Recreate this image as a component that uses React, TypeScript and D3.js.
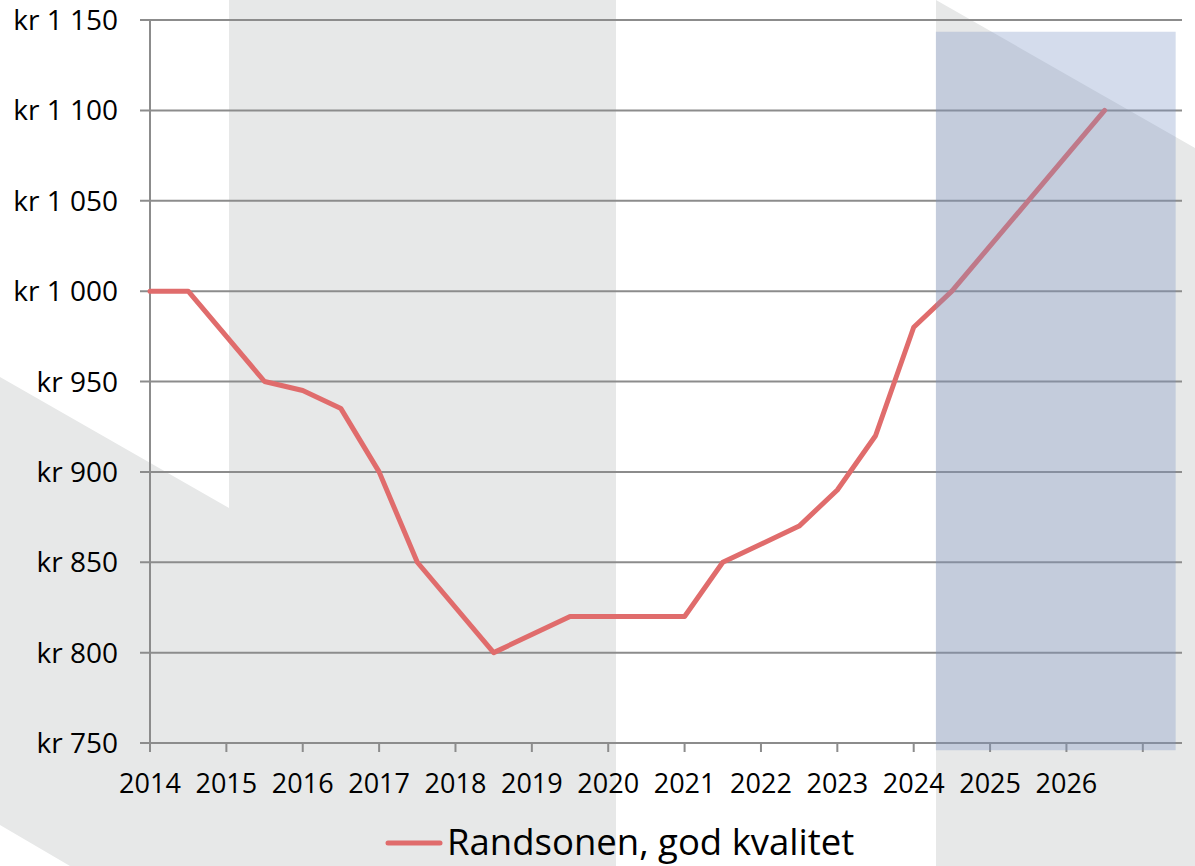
import React, { useEffect, useRef } from "react";
import * as d3 from "d3";

// price per m2 over time (half-year points where the line bends)
const years = [2014, 2014.5, 2015.5, 2016, 2016.5, 2017, 2017.5, 2018.5, 2019.5, 2021, 2021.5, 2022.5, 2023, 2023.5, 2024, 2024.5, 2026.5];
const prices = [1000, 1000, 950, 945, 935, 900, 850, 800, 820, 820, 850, 870, 890, 920, 980, 1000, 1100];
const yearLabels = ["2014", "2015", "2016", "2017", "2018", "2019", "2020", "2021", "2022", "2023", "2024", "2025", "2026"];
const yTicks = [750, 800, 850, 900, 950, 1000, 1050, 1100, 1150];
const seriesName = "Randsonen, god kvalitet";
// forecast band (years / values)
const bandYears = [2024.29, 2027.43];
const bandValues = [746, 1143.5];

const W = 1195;
const H = 866;
const lineColor = "#e06c6c";
const gridColor = "#8c8c8c";
const font = "'Open Sans', sans-serif";

const App = () => {
  const svgRef = useRef<SVGSVGElement | null>(null);

  useEffect(() => {
    const svg = d3.select(svgRef.current);
    svg.selectAll("*").remove();

    const x = d3.scaleLinear().domain([2014, 2027.5]).range([150, 1181]);
    const y = d3.scaleLinear().domain([750, 1150]).range([743, 20]);

    // background watermark shapes
    svg.append("rect").attr("width", W).attr("height", H).attr("fill", "#fff");
    const bg = "#e7e8e8";
    svg.append("polygon")
      .attr("points", "0,377 229,508 229,0 616,0 616,866 70,866 0,825")
      .attr("fill", bg);
    svg.append("polygon")
      .attr("points", "936,0 1195,148 1195,866 936,866")
      .attr("fill", bg);

    // gridlines
    svg.append("g")
      .selectAll("line")
      .data(yTicks)
      .enter()
      .append("line")
      .attr("x1", 140)
      .attr("x2", 1182)
      .attr("y1", (d) => y(d))
      .attr("y2", (d) => y(d))
      .attr("stroke", gridColor)
      .attr("stroke-width", 2);

    // y axis line
    svg.append("line")
      .attr("x1", x(2014)).attr("x2", x(2014))
      .attr("y1", y(1150)).attr("y2", y(750) + 9)
      .attr("stroke", gridColor).attr("stroke-width", 2);

    // x ticks
    const xTickVals = d3.range(2014, 2028);
    svg.append("g")
      .selectAll("line")
      .data(xTickVals)
      .enter()
      .append("line")
      .attr("x1", (d) => x(d))
      .attr("x2", (d) => x(d))
      .attr("y1", y(750))
      .attr("y2", y(750) + 9)
      .attr("stroke", gridColor)
      .attr("stroke-width", 2);

    // y labels
    svg.append("g")
      .selectAll("text")
      .data(yTicks)
      .enter()
      .append("text")
      .attr("x", 118)
      .attr("y", (d) => y(d) + 10)
      .attr("text-anchor", "end")
      .style("font-family", font)
      .style("font-size", "28px")
      .attr("fill", "#000")
      .text((d) => "kr " + d3.format(",")(d).replace(/,/g, " "));

    // x labels
    svg.append("g")
      .selectAll("text")
      .data(yearLabels)
      .enter()
      .append("text")
      .attr("x", (d) => x(+d))
      .attr("y", 793)
      .attr("text-anchor", "middle")
      .style("font-family", font)
      .style("font-size", "27px")
      .attr("fill", "#000")
      .text((d) => d);

    // series line
    const pts = years.map((yr, i) => [yr, prices[i]] as [number, number]);
    const line = d3.line<[number, number]>()
      .x((d) => x(d[0]))
      .y((d) => y(d[1]));
    svg.append("path")
      .datum(pts)
      .attr("d", line)
      .attr("fill", "none")
      .attr("stroke", lineColor)
      .attr("stroke-width", 5)
      .attr("stroke-linejoin", "round")
      .attr("stroke-linecap", "round");

    // forecast band on top
    svg.append("rect")
      .attr("x", x(bandYears[0]))
      .attr("width", x(bandYears[1]) - x(bandYears[0]))
      .attr("y", y(bandValues[1]))
      .attr("height", y(bandValues[0]) - y(bandValues[1]))
      .attr("fill", "rgb(123,150,198)")
      .attr("fill-opacity", 0.33);

    // legend
    svg.append("line")
      .attr("x1", 388).attr("x2", 440)
      .attr("y1", 843).attr("y2", 843)
      .attr("stroke", lineColor)
      .attr("stroke-width", 5)
      .attr("stroke-linecap", "round");
    svg.append("text")
      .attr("x", 447)
      .attr("y", 855)
      .style("font-family", font)
      .style("font-size", "36.5px")
      .attr("fill", "#000")
      .text(seriesName);
  }, []);

  return (
    <svg
      ref={svgRef}
      width={W}
      height={H}
      style={{ position: "absolute", left: 0, top: 0, display: "block" }}
    />
  );
};

export default App;
